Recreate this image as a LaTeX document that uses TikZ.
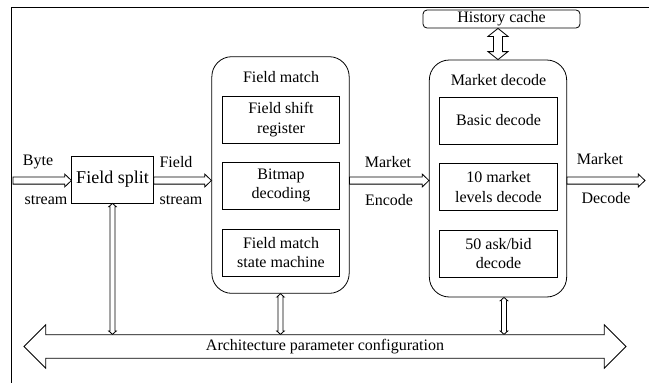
\documentclass[tikz,border=0pt]{standalone}
\usepackage{fontspec}
\setmainfont{Liberation Serif}
\usetikzlibrary{calc,shapes.arrows}
\tikzset{
  blk/.style={draw,rectangle,align=center,minimum width=88pt,minimum height=35.25pt,inner sep=1pt},
  unit/.style={draw,rounded corners=15pt,minimum width=103pt,minimum height=177.5pt},
  hollow/.style={draw,fill=white,line join=miter},
}
% open arrow to the right: #1 tail, #2 tip
\newcommand{\rarrow}[2]{\draw[hollow] let \p1=#1,\p2=#2 in
  (\x1,\y1+2.7pt)--(\x2-5pt,\y1+2.7pt)--(\x2-5pt,\y1+4.8pt)--(\x2,\y1)
  --(\x2-5pt,\y1-4.8pt)--(\x2-5pt,\y1-2.7pt)--(\x1,\y1-2.7pt)--cycle;}
% open two-headed vertical arrow: #1 top, #2 bottom, #3 half shaft, #4 half head, #5 head length
\newcommand{\vdarrow}[5]{\draw[hollow] let \p1=#1,\p2=#2 in
  (\x1,\y1)--(\x1+#4,\y1-#5)--(\x1+#3,\y1-#5)--(\x1+#3,\y2+#5)--(\x1+#4,\y2+#5)
  --(\x1,\y2)--(\x1-#4,\y2+#5)--(\x1-#3,\y2+#5)--(\x1-#3,\y1-#5)--(\x1-#4,\y1-#5)--cycle;}
\begin{document}
\begin{tikzpicture}[x=0.75pt,y=-0.75pt,line width=0.6pt,font=\fontsize{12}{14.5}\selectfont]
\useasboundingbox (0,0) rectangle (649,383);
\draw (649,7)--(11,7)--(11,383);
% input stage
\coordinate (byte) at (13,180.5);
\node[draw,minimum width=60.75pt,minimum height=35.25pt,font=\fontsize{13.5}{16}\selectfont] (split) at (112.5,179.5) {Field split};
% field match unit
\node[unit] (fmatch) at (280.5,175) {};
\node (fmtitle) at (281,77) {Field match};
\node[blk] (shift) at (281,119.5) {Field shift\\register};
\node[blk] (bitmap) at (281,185.5) {Bitmap\\decoding};
\node[blk] (fsm) at (281,252.5) {Field match\\state machine};
% market decode unit
\node[unit,minimum height=177.75pt] (mdecode) at (498,178.5) {};
\node (mdtitle) at (498.5,80) {Market decode};
\node[blk] (basic) at (498.5,120.5) {Basic decode};
\node[blk] (levels) at (498.5,187) {10 market\\levels decode};
\node[blk] (askbid) at (498.5,253.5) {50 ask/bid\\decode};
\node[draw,rounded corners=3pt,minimum width=117.75pt,minimum height=13.5pt,inner sep=0pt] (cache) at (501.5,19) {History cache};
\coordinate (out) at (645,180.5);
% configuration bus
\node[double arrow,draw,fill=white,minimum height=451.5pt,minimum width=32.25pt,
  double arrow head extend=7.5pt,inner ysep=3pt,inner xsep=0pt] (param) at (325,346.5)
  {Architecture parameter configuration};
% data flow
\rarrow{(byte)}{(split.west |- byte)}
\rarrow{(split.east |- byte)}{(fmatch.west |- byte)}
\rarrow{(fmatch.east |- byte)}{(mdecode.west |- byte)}
\rarrow{(mdecode.east |- byte)}{(out)}
\vdarrow{(mdecode.north |- cache.south)}{(mdecode.north)}{3.4pt}{7.5pt}{6pt}
\vdarrow{(split.south)}{(split.south |- param.north)}{1.9pt}{2.8pt}{2.5pt}
\vdarrow{(fmatch.south)}{(fmatch.south |- param.north)}{1.9pt}{2.8pt}{2.5pt}
\vdarrow{([xshift=4.5pt]mdecode.south)}{([xshift=4.5pt]mdecode.south |- param.north)}{1.9pt}{2.8pt}{2.5pt}
% arrow labels
\path (38,162) node (l1) {Byte} (46,200) node (l2) {stream}
  (176,162) node (l3) {Field} (181,200) node (l4) {stream}
  (388,162) node (l5) {Market} (389,200) node (l6) {Encode}
  (600,159) node (l7) {Market} (606,198) node (l8) {Decode};
\end{tikzpicture}
\end{document}
